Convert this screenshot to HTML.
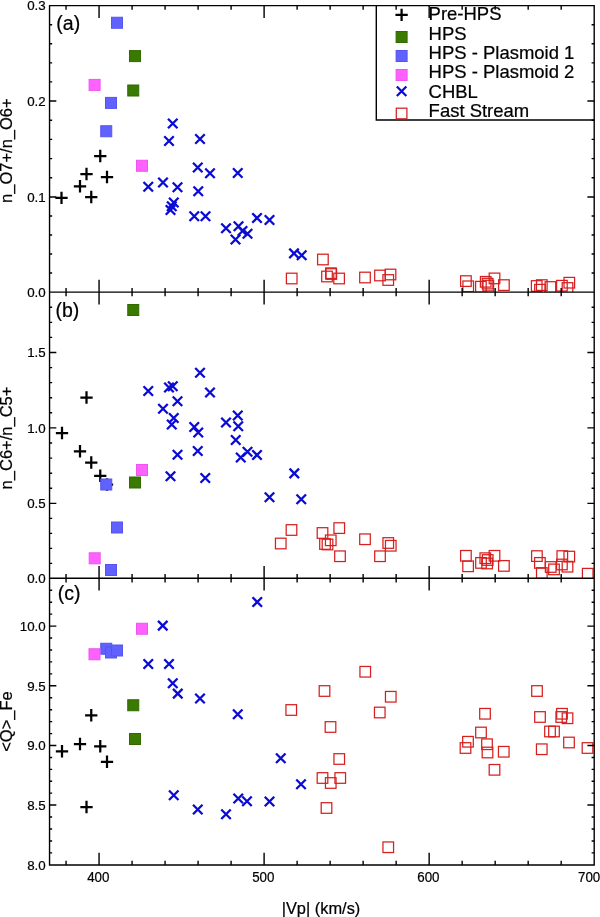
<!DOCTYPE html>
<html lang="en">
<head>
<meta charset="utf-8">
<title>Charge state ratios versus proton speed</title>
<style>
html,body{margin:0;padding:0;background:#fff;}
body{width:600px;height:917px;overflow:hidden;font-family:"Liberation Sans",Arial,Helvetica,sans-serif;}
svg{display:block;}
</style>
</head>
<body>
<svg width="600" height="917" viewBox="0 0 600 917">
<rect x="0" y="0" width="600" height="917" fill="#fff"/>
<defs>
<clipPath id="cp0"><rect x="49.55" y="5.6" width="544.6500000000001" height="286.5"/></clipPath>
<clipPath id="cp1"><rect x="49.55" y="292.1" width="544.6500000000001" height="286.19999999999993"/></clipPath>
<clipPath id="cp2"><rect x="49.55" y="578.3" width="544.6500000000001" height="286.70000000000005"/></clipPath>
</defs>
<g clip-path="url(#cp0)">
<g stroke="#000" stroke-width="2.25" fill="none"><path d="M55.35 197.90H67.65M61.50 191.75V204.05"/><path d="M73.85 186.25H86.15M80.00 180.10V192.40"/><path d="M80.35 174.00H92.65M86.50 167.85V180.15"/><path d="M85.10 197.00H97.40M91.25 190.85V203.15"/><path d="M94.10 156.00H106.40M100.25 149.85V162.15"/><path d="M100.85 177.00H113.15M107.00 170.85V183.15"/></g>
<g fill="#3a7a00" stroke="#316a00" stroke-width="1"><rect x="129.50" y="50.60" width="11.0" height="11.0"/><rect x="127.75" y="85.00" width="11.0" height="11.0"/></g>
<g fill="#6161ff" stroke="#5454ee" stroke-width="1"><rect x="111.50" y="17.25" width="11.0" height="11.0"/><rect x="105.50" y="97.40" width="11.0" height="11.0"/><rect x="100.75" y="125.75" width="11.0" height="11.0"/></g>
<g fill="#ff61ff" stroke="#ee54ee" stroke-width="1"><rect x="89.10" y="79.40" width="11.0" height="11.0"/><rect x="136.50" y="160.25" width="11.0" height="11.0"/></g>
<g stroke="#0b0bd6" stroke-width="2.3" fill="none"><path d="M168.00 118.75L177.50 128.25M168.00 128.25L177.50 118.75"/><path d="M164.25 136.25L173.75 145.75M164.25 145.75L173.75 136.25"/><path d="M195.25 134.25L204.75 143.75M195.25 143.75L204.75 134.25"/><path d="M193.00 162.75L202.50 172.25M193.00 172.25L202.50 162.75"/><path d="M205.25 168.50L214.75 178.00M205.25 178.00L214.75 168.50"/><path d="M233.00 168.25L242.50 177.75M233.00 177.75L242.50 168.25"/><path d="M158.25 177.75L167.75 187.25M158.25 187.25L167.75 177.75"/><path d="M172.75 182.50L182.25 192.00M172.75 192.00L182.25 182.50"/><path d="M143.50 182.00L153.00 191.50M143.50 191.50L153.00 182.00"/><path d="M193.50 186.50L203.00 196.00M193.50 196.00L203.00 186.50"/><path d="M169.00 197.75L178.50 207.25M169.00 207.25L178.50 197.75"/><path d="M167.00 201.50L176.50 211.00M167.00 211.00L176.50 201.50"/><path d="M165.75 205.25L175.25 214.75M165.75 214.75L175.25 205.25"/><path d="M189.50 211.50L199.00 221.00M189.50 221.00L199.00 211.50"/><path d="M200.75 211.50L210.25 221.00M200.75 221.00L210.25 211.50"/><path d="M252.25 213.25L261.75 222.75M252.25 222.75L261.75 213.25"/><path d="M264.75 215.25L274.25 224.75M264.75 224.75L274.25 215.25"/><path d="M221.25 223.50L230.75 233.00M221.25 233.00L230.75 223.50"/><path d="M233.75 221.50L243.25 231.00M233.75 231.00L243.25 221.50"/><path d="M237.75 226.25L247.25 235.75M237.75 235.75L247.25 226.25"/><path d="M242.75 229.00L252.25 238.50M242.75 238.50L252.25 229.00"/><path d="M230.75 234.75L240.25 244.25M230.75 244.25L240.25 234.75"/><path d="M289.25 248.65L298.75 258.15M289.25 258.15L298.75 248.65"/><path d="M296.95 250.55L306.45 260.05M296.95 260.05L306.45 250.55"/></g>
<g stroke="#d62020" stroke-width="1.25" fill="none"><rect x="286.40" y="273.20" width="10.6" height="10.6"/><rect x="317.60" y="254.20" width="10.6" height="10.6"/><rect x="321.70" y="271.20" width="10.6" height="10.6"/><rect x="325.60" y="267.90" width="10.6" height="10.6"/><rect x="326.00" y="268.70" width="10.6" height="10.6"/><rect x="333.80" y="273.20" width="10.6" height="10.6"/><rect x="359.70" y="272.20" width="10.6" height="10.6"/><rect x="374.70" y="270.20" width="10.6" height="10.6"/><rect x="385.20" y="269.20" width="10.6" height="10.6"/><rect x="382.95" y="274.70" width="10.6" height="10.6"/><rect x="460.60" y="275.80" width="10.6" height="10.6"/><rect x="462.90" y="281.00" width="10.6" height="10.6"/><rect x="475.60" y="281.40" width="10.6" height="10.6"/><rect x="480.40" y="276.50" width="10.6" height="10.6"/><rect x="482.30" y="278.30" width="10.6" height="10.6"/><rect x="483.00" y="280.30" width="10.6" height="10.6"/><rect x="489.20" y="273.10" width="10.6" height="10.6"/><rect x="498.60" y="279.80" width="10.6" height="10.6"/><rect x="531.40" y="280.70" width="10.6" height="10.6"/><rect x="536.50" y="279.80" width="10.6" height="10.6"/><rect x="534.70" y="284.40" width="10.6" height="10.6"/><rect x="545.10" y="281.70" width="10.6" height="10.6"/><rect x="556.60" y="280.40" width="10.6" height="10.6"/><rect x="564.00" y="277.40" width="10.6" height="10.6"/><rect x="562.20" y="282.70" width="10.6" height="10.6"/></g>
</g>
<g clip-path="url(#cp1)">
<g stroke="#000" stroke-width="2.25" fill="none"><path d="M80.35 397.50H92.65M86.50 391.35V403.65"/><path d="M55.85 433.00H68.15M62.00 426.85V439.15"/><path d="M73.85 451.25H86.15M80.00 445.10V457.40"/><path d="M85.10 462.50H97.40M91.25 456.35V468.65"/><path d="M94.10 475.75H106.40M100.25 469.60V481.90"/><path d="M100.85 484.50H113.15M107.00 478.35V490.65"/></g>
<g fill="#3a7a00" stroke="#316a00" stroke-width="1"><rect x="127.75" y="304.50" width="11.0" height="11.0"/><rect x="129.50" y="477.00" width="11.0" height="11.0"/></g>
<g fill="#6161ff" stroke="#5454ee" stroke-width="1"><rect x="100.75" y="479.00" width="11.0" height="11.0"/><rect x="111.50" y="522.00" width="11.0" height="11.0"/><rect x="105.50" y="564.50" width="11.0" height="11.0"/></g>
<g fill="#ff61ff" stroke="#ee54ee" stroke-width="1"><rect x="136.50" y="464.50" width="11.0" height="11.0"/><rect x="89.20" y="552.80" width="11.0" height="11.0"/></g>
<g stroke="#0b0bd6" stroke-width="2.3" fill="none"><path d="M195.25 368.00L204.75 377.50M195.25 377.50L204.75 368.00"/><path d="M164.25 382.75L173.75 392.25M164.25 392.25L173.75 382.75"/><path d="M168.00 381.50L177.50 391.00M168.00 391.00L177.50 381.50"/><path d="M205.25 387.75L214.75 397.25M205.25 397.25L214.75 387.75"/><path d="M172.75 396.50L182.25 406.00M172.75 406.00L182.25 396.50"/><path d="M158.25 404.00L167.75 413.50M158.25 413.50L167.75 404.00"/><path d="M143.50 386.25L153.00 395.75M143.50 395.75L153.00 386.25"/><path d="M169.00 413.25L178.50 422.75M169.00 422.75L178.50 413.25"/><path d="M167.00 419.75L176.50 429.25M167.00 429.25L176.50 419.75"/><path d="M189.50 422.25L199.00 431.75M189.50 431.75L199.00 422.25"/><path d="M193.50 427.75L203.00 437.25M193.50 437.25L203.00 427.75"/><path d="M221.25 417.75L230.75 427.25M221.25 427.25L230.75 417.75"/><path d="M233.00 410.75L242.50 420.25M233.00 420.25L242.50 410.75"/><path d="M233.50 421.50L243.00 431.00M233.50 431.00L243.00 421.50"/><path d="M231.00 435.25L240.50 444.75M231.00 444.75L240.50 435.25"/><path d="M242.75 447.00L252.25 456.50M242.75 456.50L252.25 447.00"/><path d="M252.25 450.25L261.75 459.75M252.25 459.75L261.75 450.25"/><path d="M236.00 452.75L245.50 462.25M236.00 462.25L245.50 452.75"/><path d="M172.75 450.00L182.25 459.50M172.75 459.50L182.25 450.00"/><path d="M193.00 446.25L202.50 455.75M193.00 455.75L202.50 446.25"/><path d="M165.75 471.50L175.25 481.00M165.75 481.00L175.25 471.50"/><path d="M200.50 473.25L210.00 482.75M200.50 482.75L210.00 473.25"/><path d="M289.55 468.65L299.05 478.15M289.55 478.15L299.05 468.65"/><path d="M264.75 492.50L274.25 502.00M264.75 502.00L274.25 492.50"/><path d="M296.50 494.50L306.00 504.00M296.50 504.00L306.00 494.50"/></g>
<g stroke="#d62020" stroke-width="1.25" fill="none"><rect x="275.45" y="538.20" width="10.6" height="10.6"/><rect x="286.20" y="524.70" width="10.6" height="10.6"/><rect x="317.20" y="527.70" width="10.6" height="10.6"/><rect x="333.95" y="522.80" width="10.6" height="10.6"/><rect x="319.70" y="538.70" width="10.6" height="10.6"/><rect x="322.20" y="539.20" width="10.6" height="10.6"/><rect x="325.45" y="535.00" width="10.6" height="10.6"/><rect x="334.70" y="550.95" width="10.6" height="10.6"/><rect x="359.70" y="533.95" width="10.6" height="10.6"/><rect x="374.70" y="550.95" width="10.6" height="10.6"/><rect x="382.95" y="537.70" width="10.6" height="10.6"/><rect x="385.45" y="540.45" width="10.6" height="10.6"/><rect x="460.60" y="550.50" width="10.6" height="10.6"/><rect x="462.80" y="561.00" width="10.6" height="10.6"/><rect x="475.70" y="557.60" width="10.6" height="10.6"/><rect x="480.00" y="552.90" width="10.6" height="10.6"/><rect x="482.40" y="554.70" width="10.6" height="10.6"/><rect x="481.80" y="558.20" width="10.6" height="10.6"/><rect x="489.20" y="550.50" width="10.6" height="10.6"/><rect x="498.60" y="560.60" width="10.6" height="10.6"/><rect x="531.60" y="550.80" width="10.6" height="10.6"/><rect x="534.60" y="557.60" width="10.6" height="10.6"/><rect x="536.50" y="567.70" width="10.6" height="10.6"/><rect x="545.40" y="561.70" width="10.6" height="10.6"/><rect x="548.70" y="564.10" width="10.6" height="10.6"/><rect x="557.00" y="550.80" width="10.6" height="10.6"/><rect x="556.60" y="559.20" width="10.6" height="10.6"/><rect x="564.00" y="551.30" width="10.6" height="10.6"/><rect x="562.20" y="561.40" width="10.6" height="10.6"/><rect x="582.40" y="568.40" width="10.6" height="10.6"/></g>
</g>
<g clip-path="url(#cp2)">
<g stroke="#000" stroke-width="2.25" fill="none"><path d="M85.10 715.25H97.40M91.25 709.10V721.40"/><path d="M73.85 744.00H86.15M80.00 737.85V750.15"/><path d="M55.85 751.25H68.15M62.00 745.10V757.40"/><path d="M94.10 746.25H106.40M100.25 740.10V752.40"/><path d="M100.85 761.75H113.15M107.00 755.60V767.90"/><path d="M80.35 807.00H92.65M86.50 800.85V813.15"/></g>
<g fill="#3a7a00" stroke="#316a00" stroke-width="1"><rect x="127.75" y="699.75" width="11.0" height="11.0"/><rect x="129.50" y="733.50" width="11.0" height="11.0"/></g>
<g fill="#6161ff" stroke="#5454ee" stroke-width="1"><rect x="100.75" y="643.25" width="11.0" height="11.0"/><rect x="105.50" y="647.00" width="11.0" height="11.0"/><rect x="111.50" y="645.00" width="11.0" height="11.0"/></g>
<g fill="#ff61ff" stroke="#ee54ee" stroke-width="1"><rect x="89.00" y="648.75" width="11.0" height="11.0"/><rect x="136.50" y="623.25" width="11.0" height="11.0"/></g>
<g stroke="#0b0bd6" stroke-width="2.3" fill="none"><path d="M158.00 620.85L167.50 630.35M158.00 630.35L167.50 620.85"/><path d="M143.50 659.25L153.00 668.75M143.50 668.75L153.00 659.25"/><path d="M164.25 659.25L173.75 668.75M164.25 668.75L173.75 659.25"/><path d="M168.00 678.45L177.50 687.95M168.00 687.95L177.50 678.45"/><path d="M173.00 688.85L182.50 698.35M173.00 698.35L182.50 688.85"/><path d="M195.25 693.75L204.75 703.25M195.25 703.25L204.75 693.75"/><path d="M233.00 709.50L242.50 719.00M233.00 719.00L242.50 709.50"/><path d="M252.50 597.25L262.00 606.75M252.50 606.75L262.00 597.25"/><path d="M169.00 790.50L178.50 800.00M169.00 800.00L178.50 790.50"/><path d="M193.00 804.75L202.50 814.25M193.00 814.25L202.50 804.75"/><path d="M221.25 809.50L230.75 819.00M221.25 819.00L230.75 809.50"/><path d="M233.50 793.75L243.00 803.25M233.50 803.25L243.00 793.75"/><path d="M242.25 796.50L251.75 806.00M242.25 806.00L251.75 796.50"/><path d="M264.75 796.75L274.25 806.25M264.75 806.25L274.25 796.75"/><path d="M276.00 753.50L285.50 763.00M276.00 763.00L285.50 753.50"/><path d="M296.25 779.50L305.75 789.00M296.25 789.00L305.75 779.50"/></g>
<g stroke="#d62020" stroke-width="1.25" fill="none"><rect x="359.95" y="666.45" width="10.6" height="10.6"/><rect x="319.20" y="685.70" width="10.6" height="10.6"/><rect x="385.45" y="691.45" width="10.6" height="10.6"/><rect x="374.45" y="707.20" width="10.6" height="10.6"/><rect x="325.20" y="721.70" width="10.6" height="10.6"/><rect x="333.95" y="753.70" width="10.6" height="10.6"/><rect x="285.95" y="704.70" width="10.6" height="10.6"/><rect x="317.20" y="772.70" width="10.6" height="10.6"/><rect x="334.95" y="772.70" width="10.6" height="10.6"/><rect x="325.45" y="777.70" width="10.6" height="10.6"/><rect x="321.20" y="802.70" width="10.6" height="10.6"/><rect x="382.95" y="841.95" width="10.6" height="10.6"/><rect x="531.70" y="685.70" width="10.6" height="10.6"/><rect x="479.70" y="708.45" width="10.6" height="10.6"/><rect x="534.70" y="711.70" width="10.6" height="10.6"/><rect x="556.70" y="708.45" width="10.6" height="10.6"/><rect x="555.95" y="711.70" width="10.6" height="10.6"/><rect x="562.20" y="712.95" width="10.6" height="10.6"/><rect x="475.70" y="727.20" width="10.6" height="10.6"/><rect x="544.70" y="726.20" width="10.6" height="10.6"/><rect x="548.70" y="726.20" width="10.6" height="10.6"/><rect x="462.70" y="736.45" width="10.6" height="10.6"/><rect x="460.20" y="742.70" width="10.6" height="10.6"/><rect x="481.70" y="738.95" width="10.6" height="10.6"/><rect x="482.20" y="747.20" width="10.6" height="10.6"/><rect x="498.45" y="746.45" width="10.6" height="10.6"/><rect x="536.45" y="743.95" width="10.6" height="10.6"/><rect x="563.70" y="737.20" width="10.6" height="10.6"/><rect x="582.20" y="742.70" width="10.6" height="10.6"/><rect x="489.20" y="764.50" width="10.6" height="10.6"/></g>
</g>
<path d="M66.05 5.6v4.2M66.05 287.90000000000003v8.4M66.05 574.0999999999999v8.4M66.05 865.0v-4.2M99.06 5.6v12.3M99.06 279.8v24.6M99.06 566.0v24.6M99.06 865.0v-12.3M132.07 5.6v4.2M132.07 287.90000000000003v8.4M132.07 574.0999999999999v8.4M132.07 865.0v-4.2M165.08 5.6v4.2M165.08 287.90000000000003v8.4M165.08 574.0999999999999v8.4M165.08 865.0v-4.2M198.09 5.6v4.2M198.09 287.90000000000003v8.4M198.09 574.0999999999999v8.4M198.09 865.0v-4.2M231.10 5.6v4.2M231.10 287.90000000000003v8.4M231.10 574.0999999999999v8.4M231.10 865.0v-4.2M264.11 5.6v12.3M264.11 279.8v24.6M264.11 566.0v24.6M264.11 865.0v-12.3M297.12 5.6v4.2M297.12 287.90000000000003v8.4M297.12 574.0999999999999v8.4M297.12 865.0v-4.2M330.13 5.6v4.2M330.13 287.90000000000003v8.4M330.13 574.0999999999999v8.4M330.13 865.0v-4.2M363.14 5.6v4.2M363.14 287.90000000000003v8.4M363.14 574.0999999999999v8.4M363.14 865.0v-4.2M396.15 5.6v4.2M396.15 287.90000000000003v8.4M396.15 574.0999999999999v8.4M396.15 865.0v-4.2M429.15 5.6v12.3M429.15 279.8v24.6M429.15 566.0v24.6M429.15 865.0v-12.3M462.16 5.6v4.2M462.16 287.90000000000003v8.4M462.16 574.0999999999999v8.4M462.16 865.0v-4.2M495.17 5.6v4.2M495.17 287.90000000000003v8.4M495.17 574.0999999999999v8.4M495.17 865.0v-4.2M528.18 5.6v4.2M528.18 287.90000000000003v8.4M528.18 574.0999999999999v8.4M528.18 865.0v-4.2M561.19 5.6v4.2M561.19 287.90000000000003v8.4M561.19 574.0999999999999v8.4M561.19 865.0v-4.2M49.55 273.06h2.6M594.2 273.06h-2.6M49.55 254.04h2.6M594.2 254.04h-2.6M49.55 235.03h2.6M594.2 235.03h-2.6M49.55 216.01h2.6M594.2 216.01h-2.6M49.55 197.00h6.8M594.2 197.00h-6.8M49.55 177.80h2.6M594.2 177.80h-2.6M49.55 158.60h2.6M594.2 158.60h-2.6M49.55 139.40h2.6M594.2 139.40h-2.6M49.55 120.20h2.6M594.2 120.20h-2.6M49.55 101.00h6.8M594.2 101.00h-6.8M49.55 81.92h2.6M594.2 81.92h-2.6M49.55 62.84h2.6M594.2 62.84h-2.6M49.55 43.76h2.6M594.2 43.76h-2.6M49.55 24.68h2.6M594.2 24.68h-2.6M49.55 563.40h2.6M594.2 563.40h-2.6M49.55 548.40h2.6M594.2 548.40h-2.6M49.55 533.40h2.6M594.2 533.40h-2.6M49.55 518.40h2.6M594.2 518.40h-2.6M49.55 503.40h6.8M594.2 503.40h-6.8M49.55 488.30h2.6M594.2 488.30h-2.6M49.55 473.20h2.6M594.2 473.20h-2.6M49.55 458.10h2.6M594.2 458.10h-2.6M49.55 443.00h2.6M594.2 443.00h-2.6M49.55 427.90h6.8M594.2 427.90h-6.8M49.55 412.82h2.6M594.2 412.82h-2.6M49.55 397.74h2.6M594.2 397.74h-2.6M49.55 382.66h2.6M594.2 382.66h-2.6M49.55 367.58h2.6M594.2 367.58h-2.6M49.55 352.50h6.8M594.2 352.50h-6.8M49.55 337.42h2.6M594.2 337.42h-2.6M49.55 322.34h2.6M594.2 322.34h-2.6M49.55 307.26h2.6M594.2 307.26h-2.6M49.55 852.92h2.6M594.2 852.92h-2.6M49.55 840.94h2.6M594.2 840.94h-2.6M49.55 828.96h2.6M594.2 828.96h-2.6M49.55 816.98h2.6M594.2 816.98h-2.6M49.55 805.00h6.8M594.2 805.00h-6.8M49.55 793.11h2.6M594.2 793.11h-2.6M49.55 781.22h2.6M594.2 781.22h-2.6M49.55 769.33h2.6M594.2 769.33h-2.6M49.55 757.44h2.6M594.2 757.44h-2.6M49.55 745.55h6.8M594.2 745.55h-6.8M49.55 733.60h2.6M594.2 733.60h-2.6M49.55 721.65h2.6M594.2 721.65h-2.6M49.55 709.70h2.6M594.2 709.70h-2.6M49.55 697.75h2.6M594.2 697.75h-2.6M49.55 685.80h6.8M594.2 685.80h-6.8M49.55 673.86h2.6M594.2 673.86h-2.6M49.55 661.92h2.6M594.2 661.92h-2.6M49.55 649.98h2.6M594.2 649.98h-2.6M49.55 638.04h2.6M594.2 638.04h-2.6M49.55 626.10h6.8M594.2 626.10h-6.8M49.55 614.16h2.6M594.2 614.16h-2.6M49.55 602.22h2.6M594.2 602.22h-2.6M49.55 590.28h2.6M594.2 590.28h-2.6" stroke="#000" stroke-width="1.4" fill="none"/>
<path d="M49.55 5.6H594.2V865.0H49.55ZM49.55 292.1H594.2M49.55 578.3H594.2" stroke="#000" stroke-width="1.4" fill="none" stroke-linejoin="miter"/>
<path d="M376.3 5.6V120.0H594.2" stroke="#000" stroke-width="1.4" fill="none"/>
<g stroke="#000" stroke-width="2.25" fill="none"><path d="M395.45 14.90H407.75M401.60 8.75V21.05"/></g>
<g fill="#3a7a00" stroke="#316a00" stroke-width="1"><rect x="396.10" y="31.50" width="11.0" height="11.0"/></g>
<g fill="#6161ff" stroke="#5454ee" stroke-width="1"><rect x="396.10" y="50.50" width="11.0" height="11.0"/></g>
<g fill="#ff61ff" stroke="#ee54ee" stroke-width="1"><rect x="396.10" y="69.50" width="11.0" height="11.0"/></g>
<g stroke="#0b0bd6" stroke-width="2.3" fill="none"><path d="M396.85 86.55L406.35 96.05M396.85 96.05L406.35 86.55"/></g>
<g stroke="#d62020" stroke-width="1.25" fill="none"><rect x="396.30" y="108.20" width="10.6" height="10.6"/></g>
<g font-family="Liberation Sans, Arial, Helvetica, sans-serif" fill="#000" stroke="#000" stroke-width="0.22">
<text transform="translate(428.6 20.2) scale(1.016 1)" font-size="18.2" text-anchor="start" >Pre-HPS</text>
<text transform="translate(428.6 39.58) scale(1.016 1)" font-size="18.2" text-anchor="start" >HPS</text>
<text transform="translate(428.6 58.959999999999994) scale(1.016 1)" font-size="18.2" text-anchor="start" >HPS - Plasmoid 1</text>
<text transform="translate(428.6 78.34) scale(1.016 1)" font-size="18.2" text-anchor="start" >HPS - Plasmoid 2</text>
<text transform="translate(428.6 97.72) scale(1.016 1)" font-size="18.2" text-anchor="start" >CHBL</text>
<text transform="translate(428.6 117.1) scale(1.016 1)" font-size="18.2" text-anchor="start" >Fast Stream</text>
<text transform="translate(45.7 10.1) scale(0.975 1)" font-size="13.7" text-anchor="end" stroke-width="0.22">0.3</text>
<text transform="translate(45.7 105.79999999999998) scale(0.975 1)" font-size="13.7" text-anchor="end" stroke-width="0.22">0.2</text>
<text transform="translate(45.7 201.8) scale(0.975 1)" font-size="13.7" text-anchor="end" stroke-width="0.22">0.1</text>
<text transform="translate(45.7 297.1) scale(0.975 1)" font-size="13.7" text-anchor="end" stroke-width="0.22">0.0</text>
<text transform="translate(45.7 357.3) scale(0.975 1)" font-size="13.7" text-anchor="end" stroke-width="0.22">1.5</text>
<text transform="translate(45.7 432.7) scale(0.975 1)" font-size="13.7" text-anchor="end" stroke-width="0.22">1.0</text>
<text transform="translate(45.7 508.2) scale(0.975 1)" font-size="13.7" text-anchor="end" stroke-width="0.22">0.5</text>
<text transform="translate(45.7 583.0999999999999) scale(0.975 1)" font-size="13.7" text-anchor="end" stroke-width="0.22">0.0</text>
<text transform="translate(45.7 630.9) scale(0.975 1)" font-size="13.7" text-anchor="end" stroke-width="0.22">10.0</text>
<text transform="translate(45.7 690.5999999999999) scale(0.975 1)" font-size="13.7" text-anchor="end" stroke-width="0.22">9.5</text>
<text transform="translate(45.7 750.3499999999999) scale(0.975 1)" font-size="13.7" text-anchor="end" stroke-width="0.22">9.0</text>
<text transform="translate(45.7 809.8) scale(0.975 1)" font-size="13.7" text-anchor="end" stroke-width="0.22">8.5</text>
<text transform="translate(45.7 870.0) scale(0.975 1)" font-size="13.7" text-anchor="end" stroke-width="0.22">8.0</text>
<text transform="translate(98.26363636363637 881.8) scale(0.935 1)" font-size="14.3" text-anchor="middle" stroke-width="0.22">400</text>
<text transform="translate(263.3090909090909 881.8) scale(0.935 1)" font-size="14.3" text-anchor="middle" stroke-width="0.22">500</text>
<text transform="translate(428.3545454545455 881.8) scale(0.935 1)" font-size="14.3" text-anchor="middle" stroke-width="0.22">600</text>
<text transform="translate(578.0 881.8) scale(0.935 1)" font-size="14.3" text-anchor="start" stroke-width="0.22">700</text>
<text x="56.3" y="29.5" font-size="19.5" text-anchor="start" >(a)</text>
<text x="55.5" y="316.8" font-size="19.5" text-anchor="start" >(b)</text>
<text x="57.8" y="599.5" font-size="19.5" text-anchor="start" >(c)</text>
<text x="321.0" y="913.5" font-size="16.4" text-anchor="middle" >|Vp| (km/s)</text>
<text transform="translate(11.6 150.6) rotate(-90)" font-size="16.5" text-anchor="middle">n_O7+/n_O6+</text>
<text transform="translate(11.6 438.0) rotate(-90)" font-size="16.5" text-anchor="middle">n_C6+/n_C5+</text>
<text transform="translate(11.6 721.5) rotate(-90)" font-size="16.5" text-anchor="middle">&lt;Q&gt;_Fe</text>
</g>
</svg>
</body>
</html>
